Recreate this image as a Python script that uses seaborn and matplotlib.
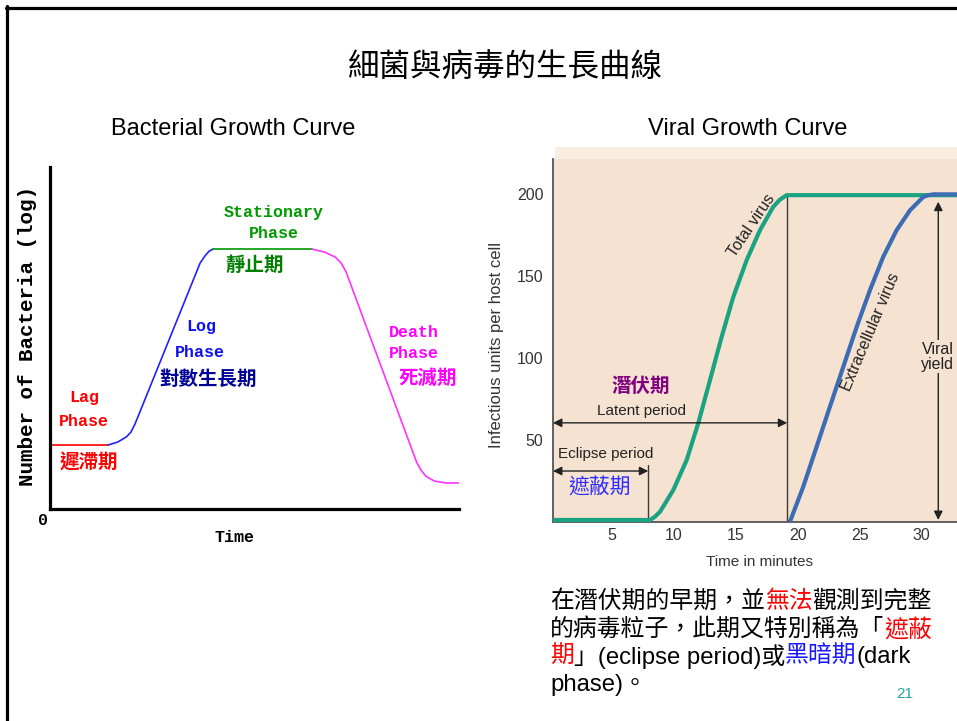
import numpy as np
import pandas as pd
import matplotlib
matplotlib.use("Agg")
import matplotlib.pyplot as plt
import seaborn as sns
from matplotlib.lines import Line2D
from matplotlib.patches import Rectangle

# ---- bacterial growth curve (arbitrary time / log count units) ----
lag_t = [0.0, 1.42]
lag_n = [1.87, 1.87]
log_t = [1.42, 1.66, 1.87, 1.98, 2.08, 3.67, 3.79, 3.89, 3.99]
log_n = [1.87, 1.96, 2.11, 2.25, 2.49, 7.19, 7.40, 7.54, 7.60]
stat_t = [3.99, 6.41]
stat_n = [7.60, 7.60]
death_t = [6.41, 6.72, 6.97, 7.12, 7.24, 8.97, 9.07, 9.19, 9.39, 9.68, 10.0]
death_n = [7.60, 7.51, 7.37, 7.19, 6.93, 1.35, 1.14, 0.96, 0.82, 0.76, 0.76]

# ---- viral growth curve (minutes / infectious units per cell) ----
total_t = [0.27, 8.09, 8.49, 8.9, 9.97, 11.05, 11.98, 12.93, 13.87, 14.81, 15.89,
           16.96, 18.03, 18.57, 19.11, 32.85]
total_y = [1.4, 1.4, 3.4, 6.4, 19.6, 37.9, 60.2, 86.5, 112.8, 137.1, 159.5,
           177.7, 191.9, 196.3, 199, 199]
extra_t = [19.38, 20.45, 21.53, 22.6, 23.68, 24.76, 25.83, 26.9, 27.98,
           29.06, 30.13, 30.55, 30.94, 32.85]
extra_y = [0.4, 21.6, 46, 70.3, 94.6, 118.9, 141.2, 161.5, 177.7, 189.8,
           197.9, 199.0, 199.5, 199.5]
eclipse_end = 7.95
latent_end = 19.16
yield_x = 31.34
x_ticks = [5, 10, 15, 20, 25, 30]
y_ticks = [50, 100, 150, 200]

sns.set_theme(style="white")
plt.rcParams['font.family'] = ['Liberation Sans', 'Noto Sans CJK TC', 'DejaVu Sans']
plt.rcParams['text.color'] = 'black'

fig = plt.figure(figsize=(9.57, 7.21), dpi=100)
W, H = 957, 721

# slide frame
fig.add_artist(Line2D([7.5 / W, 7.5 / W], [0, 1 - 6 / H], color='black', lw=2.3))
fig.add_artist(Line2D([6 / W, 1], [1 - 7.5 / H, 1 - 7.5 / H], color='black', lw=2.3))

fig.text(505 / W, 1 - 67 / H, "細菌與病毒的生長曲線", ha='center', va='center',
         fontsize=22.7, family=['Noto Sans CJK TC'])
fig.text(233 / W, 1 - 129 / H, "Bacterial Growth Curve", ha='center', va='center', fontsize=17)
fig.text(748 / W, 1 - 129 / H, "Viral Growth Curve", ha='center', va='center', fontsize=17)

# ---------------- left chart ----------------
axl = fig.add_axes([50 / W, 1 - 509 / H, 409 / W, 342 / H])
bact = pd.concat([
    pd.DataFrame({'t': lag_t, 'n': lag_n, 'phase': 'lag'}),
    pd.DataFrame({'t': log_t, 'n': log_n, 'phase': 'log'}),
    pd.DataFrame({'t': stat_t, 'n': stat_n, 'phase': 'stationary'}),
    pd.DataFrame({'t': death_t, 'n': death_n, 'phase': 'death'}),
])
pal = {'lag': '#ff0000', 'log': '#2020ff', 'stationary': '#009900', 'death': '#ff33ff'}
sns.lineplot(data=bact, x='t', y='n', hue='phase', palette=pal, estimator=None,
             sort=False, legend=False, lw=1.2, ax=axl)
axl.set_xlim(0, 10)
axl.set_ylim(0, 10)
axl.set_xticks([])
axl.set_yticks([])
axl.set_xlabel('')
axl.set_ylabel('')
for s in ['top', 'right']:
    axl.spines[s].set_visible(False)
for s in ['left', 'bottom']:
    axl.spines[s].set_color('black')
    axl.spines[s].set_linewidth(2.3)

mono = dict(family=['Liberation Mono'], fontweight='bold', ha='center', va='center')
cjkb = dict(family=['Noto Sans CJK TC'], fontweight='bold', ha='center', va='center', fontsize=14)
axl.text(5.48, 8.68, "Stationary", color='#009900', fontsize=12, **mono)
axl.text(5.48, 8.07, "Phase", color='#009900', fontsize=12, **mono)
axl.text(5.01, 7.13, "靜止期", color='#008000', **cjkb)
axl.text(3.69, 5.35, "Log", color='#1010ee', fontsize=12, **mono)
axl.text(3.67, 4.59, "Phase", color='#1010ee', fontsize=12, **mono)
axl.text(3.86, 3.80, "對數生長期", color='#000099', **cjkb)
axl.text(8.90, 5.15, "Death", color='#ff00ff', fontsize=12, **mono)
axl.text(8.90, 4.56, "Phase", color='#ff00ff', fontsize=12, **mono)
axl.text(9.24, 3.83, "死滅期", color='#ff00ff', **cjkb)
axl.text(0.83, 3.27, "Lag", color='#ff0000', fontsize=12, **mono)
axl.text(0.83, 2.57, "Phase", color='#ff0000', fontsize=12, **mono)
axl.text(0.95, 1.37, "遲滯期", color='#ff0000', **cjkb)
axl.text(-0.17, -0.35, "0", color='black', fontsize=12, clip_on=False, **mono)
axl.text(4.51, -0.82, "Time", color='black', fontsize=12, clip_on=False, **mono)
axl.text(-0.54, 5.05, "Number of Bacteria (log)", color='black', fontsize=15,
         rotation=90, clip_on=False, **mono)

# ---------------- right chart ----------------
peach = '#f6e2d1'
fig.add_artist(Rectangle((555 / W, 1 - 159 / H), 1, 12 / H, transform=fig.transFigure,
                         facecolor='#f9ece1', edgecolor='none', zorder=0))
axr = fig.add_axes([553 / W, 1 - 522.3 / H, 404 / W, 363.3 / H])
axr.set_facecolor(peach)
sns.lineplot(x=total_t, y=total_y, color='#1aa383', lw=3.0, estimator=None, ax=axr,
             solid_capstyle='butt', zorder=3)
sns.lineplot(x=extra_t, y=extra_y, color='#3b6cb4', lw=3.0, estimator=None, ax=axr,
             solid_capstyle='butt', zorder=3)
axr.set_xlim(0.27, 32.85)
axr.set_ylim(0, 221)
for s in ['top', 'right']:
    axr.spines[s].set_visible(False)
for s in ['left', 'bottom']:
    axr.spines[s].set_color('#555555')
    axr.spines[s].set_linewidth(1.3)
axr.set_xticks(x_ticks)
axr.set_yticks(y_ticks)
axr.tick_params(axis='both', direction='in', colors='#555555', labelcolor='#333333',
                labelsize=11.5, width=1.1)
axr.tick_params(axis='x', length=8.5, pad=4)
axr.tick_params(axis='y', length=7, pad=7)
axr.set_xlabel('')
axr.set_ylabel('')
axr.text(0.51, -0.109, "Time in minutes", transform=axr.transAxes, ha='center', va='center',
         fontsize=11, color='#333333', clip_on=False)
axr.text(-0.141, 0.488, "Infectious units per host cell", transform=axr.transAxes,
         ha='center', va='center', rotation=90, fontsize=12, color='#333333', clip_on=False)

dark = '#3a3a3a'
axr.plot([latent_end, latent_end], [0, 199], color=dark, lw=1.0, zorder=2)
axr.plot([eclipse_end, eclipse_end], [0, 34.8], color=dark, lw=1.0, zorder=2)
arw = dict(arrowstyle='<|-|>', color='#222222', lw=1.0, mutation_scale=13, shrinkA=0, shrinkB=0)
axr.annotate('', xy=(latent_end, 60.5), xytext=(0.27, 60.5), arrowprops=arw)
axr.annotate('', xy=(eclipse_end, 31.2), xytext=(0.27, 31.2), arrowprops=arw)
axr.annotate('', xy=(yield_x, 195), xytext=(yield_x, 1.4), arrowprops=arw)
axr.text(31.3, 100.7, "Viral\nyield", ha='center', va='center', fontsize=11.5, color='#222222',
         linespacing=1.0, bbox=dict(facecolor=peach, edgecolor='none', pad=1), zorder=4)
axr.text(7.4, 67.9, "Latent period", ha='center', va='center', fontsize=11, color='#222222')
axr.text(4.54, 41.3, "Eclipse period", ha='center', va='center', fontsize=11, color='#222222')
axr.text(7.3, 82.9, "潛伏期", ha='center', va='center', fontsize=14, fontweight='bold',
         color='#800080', family=['Noto Sans CJK TC'])
axr.text(4.0, 21.6, "遮蔽期", ha='center', va='center', fontsize=15,
         color='#2b2bff', family=['Noto Sans CJK TC'])
axr.text(16.27, 180.3, "Total virus", ha='center', va='center', rotation=56,
         rotation_mode='anchor', fontsize=11.5, color='#222222')
axr.text(25.9, 115.5, "Extracellular virus", ha='center', va='center', rotation=67,
         rotation_mode='anchor', fontsize=11.5, color='#222222')

# ---------------- paragraph ----------------
lines = [
    [("在潛伏期的早期，並", 'black'), ("無法", '#ff0000'), ("觀測到完整", 'black')],
    [("的病毒粒子，此期又特別稱為「", 'black'), ("遮蔽", '#ff0000')],
    [("期", '#ff0000'), ("」(eclipse period)或", 'black'), ("黑暗期", '#1a1aff'), ("(dark", 'black')],
    [("phase)。", 'black')],
]
line_y = [601.7, 630, 657, 685]
para_size = 17.2
for segs, yy in zip(lines, line_y):
    prev = fig.text(550 / W, 1 - yy / H, segs[0][0], ha='left', va='center',
                    fontsize=para_size, color=segs[0][1])
    for txt, col in segs[1:]:
        prev = fig.add_artist(plt.Annotation(txt, xy=(1, 0.5), xycoords=prev, ha='left',
                                             va='center', fontsize=para_size, color=col,
                                             annotation_clip=False))
fig.text(905 / W, 1 - 694 / H, "21", ha='center', va='center', fontsize=11, color='#2aa3a3')

fig.savefig("out.png", dpi=100)
